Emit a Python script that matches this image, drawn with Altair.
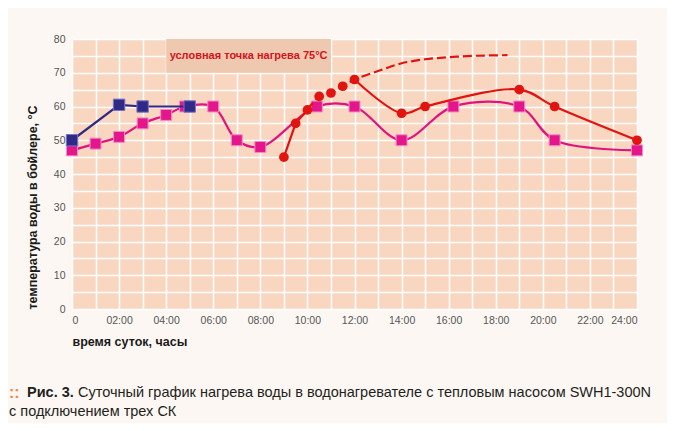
import altair as alt
import pandas as pd

# ---- data ----
navy_h = [0, 2, 3, 5]
navy_t = [50, 60.5, 60, 60]

mag_h = [0, 1, 2, 3, 4, 4.8, 6, 7, 8, 10.4, 12, 14, 16.2, 19, 20.5, 24]
mag_t = [47, 49, 51, 55, 57.5, 60, 60, 50, 48, 60, 60, 50, 60, 60, 50, 47]

red_rise_h = [9, 9.5, 10]
red_rise_t = [45, 55, 59]

red_dash_h = [10, 10.5, 11, 11.5, 12, 13, 14, 15, 16, 17, 18.5]
red_dash_t = [59, 63, 64, 66, 68, 70.5, 72.8, 74, 74.6, 75, 75.2]

red_fall_h = [12, 14, 15, 19, 20.5, 24]
red_fall_t = [68, 58, 60, 65, 60, 50]

red_pt_h = [9, 9.5, 10, 10.5, 11, 11.5, 12, 14, 15, 19, 20.5, 24]
red_pt_t = [45, 55, 59, 63, 64, 66, 68, 58, 60, 65, 60, 50]

box_h = [4, 11]
box_t = [70, 80]
box_label = "условная точка нагрева 75°C"

x_title = "время суток, часы"
y_title = "температура воды в бойлере, °C"
cap_bold = "Рис. 3."
cap_line1 = "Суточный график нагрева воды в водонагревателе с тепловым насосом SWH1-300N"
cap_line2 = "с подключением трех СК"

NAVY = "#2e2a86"
MAG = "#e0147f"
RED = "#e1140f"
FONT = "Liberation Sans, Arial, sans-serif"

# ---- encodings ----
x_enc = alt.X(
    "h:Q",
    scale=alt.Scale(domain=[0, 24], nice=False, zero=False),
    axis=alt.Axis(
        values=list(range(0, 25)),
        labelExpr="datum.value == 0 ? '0' : (datum.value % 2 == 0 ? (datum.value < 10 ? '0' + datum.value : '' + datum.value) + ':00' : '')",
        title=x_title,
        titleAnchor="start",
        titleAlign="left",
        titlePadding=10,
        labelPadding=6,
    ),
)
y_enc = alt.Y(
    "t:Q",
    scale=alt.Scale(domain=[0, 80], nice=False),
    axis=alt.Axis(
        values=list(range(0, 81, 5)),
        labelExpr="datum.value % 10 == 0 ? '' + datum.value : ''",
        title=y_title,
        titleAnchor="start",
        titlePadding=14,
        labelPadding=7,
    ),
)

def df(h, t):
    return pd.DataFrame({"h": h, "t": t})

box = alt.Chart(pd.DataFrame({"h": [box_h[0]], "h2": [box_h[1]], "t": [box_t[0]], "t2": [box_t[1]]})).mark_rect(
    color="#efc8b0"
).encode(x=x_enc, x2="h2:Q", y=y_enc, y2="t2:Q")

box_text = alt.Chart(pd.DataFrame({"h": [(box_h[0] + box_h[1]) / 2], "t": [75], "s": [box_label]})).mark_text(
    color="#d4141c", font=FONT, fontWeight="bold", fontSize=11
).encode(x=x_enc, y=y_enc, text="s:N")

mag_line = alt.Chart(df(mag_h, mag_t)).mark_line(interpolate="catmull-rom", color=MAG, strokeWidth=2.2).encode(x=x_enc, y=y_enc)
mag_pts = alt.Chart(df(mag_h, mag_t)).mark_square(size=120, fill="#e3168b", stroke="#f48cc6", strokeWidth=1, opacity=1).encode(x=x_enc, y=y_enc)

navy_line = alt.Chart(df(navy_h, navy_t)).mark_line(color=NAVY, strokeWidth=2.2).encode(x=x_enc, y=y_enc)
navy_pts = alt.Chart(df(navy_h, navy_t)).mark_square(size=130, fill=NAVY, stroke="#7a72c8", strokeWidth=1, opacity=1).encode(x=x_enc, y=y_enc)

red_rise = alt.Chart(df(red_rise_h, red_rise_t)).mark_line(color=RED, strokeWidth=2.2).encode(x=x_enc, y=y_enc)
red_dash = alt.Chart(df(red_dash_h, red_dash_t)).mark_line(
    interpolate="catmull-rom", color=RED, strokeWidth=2.2, strokeDash=[9, 4]
).encode(x=x_enc, y=y_enc)
red_fall = alt.Chart(df(red_fall_h, red_fall_t)).mark_line(interpolate="catmull-rom", color=RED, strokeWidth=2.2).encode(x=x_enc, y=y_enc)
red_pts = alt.Chart(df(red_pt_h, red_pt_t)).mark_circle(size=95, color=RED, opacity=1).encode(x=x_enc, y=y_enc)

cap_dots = alt.Chart(pd.DataFrame({"s": ["::"]})).mark_text(
    align="left", baseline="middle", color="#f0884a", font=FONT, fontWeight="bold", fontSize=16
).encode(x=alt.value(-63), y=alt.value(354), text="s:N")
cap_b = alt.Chart(pd.DataFrame({"s": [cap_bold]})).mark_text(
    align="left", baseline="middle", color="#231f20", font=FONT, fontWeight="bold", fontSize=14.5
).encode(x=alt.value(-45), y=alt.value(354), text="s:N")
cap_1 = alt.Chart(pd.DataFrame({"s": [cap_line1]})).mark_text(
    align="left", baseline="middle", color="#231f20", font=FONT, fontSize=14.5
).encode(x=alt.value(6), y=alt.value(354), text="s:N")
cap_2 = alt.Chart(pd.DataFrame({"s": [cap_line2]})).mark_text(
    align="left", baseline="middle", color="#231f20", font=FONT, fontSize=14.5
).encode(x=alt.value(-63), y=alt.value(373), text="s:N")

chart = alt.layer(
    box, box_text, mag_line, mag_pts, navy_line, navy_pts,
    red_rise, red_dash, red_fall, red_pts,
    cap_dots, cap_b, cap_1, cap_2,
).properties(
    width=565, height=270,
    autosize=alt.AutoSizeParams(type="none"),
    padding={"left": 64, "top": 31, "right": 30, "bottom": 114},
).configure(
    background="#fcf7f3",
).configure_view(
    fill="#f8d6c0", strokeWidth=0,
).configure_axis(
    grid=True, gridColor="#ffffff", gridWidth=1.5, gridOpacity=1,
    domain=False, ticks=False,
    labelFont=FONT, labelFontSize=10.5, labelColor="#555555",
    titleFont=FONT, titleFontSize=12.5, titleFontWeight="bold", titleColor="#1a1a1a",
)

chart.save("out.html", embed_options={"renderer": "svg", "actions": False})
